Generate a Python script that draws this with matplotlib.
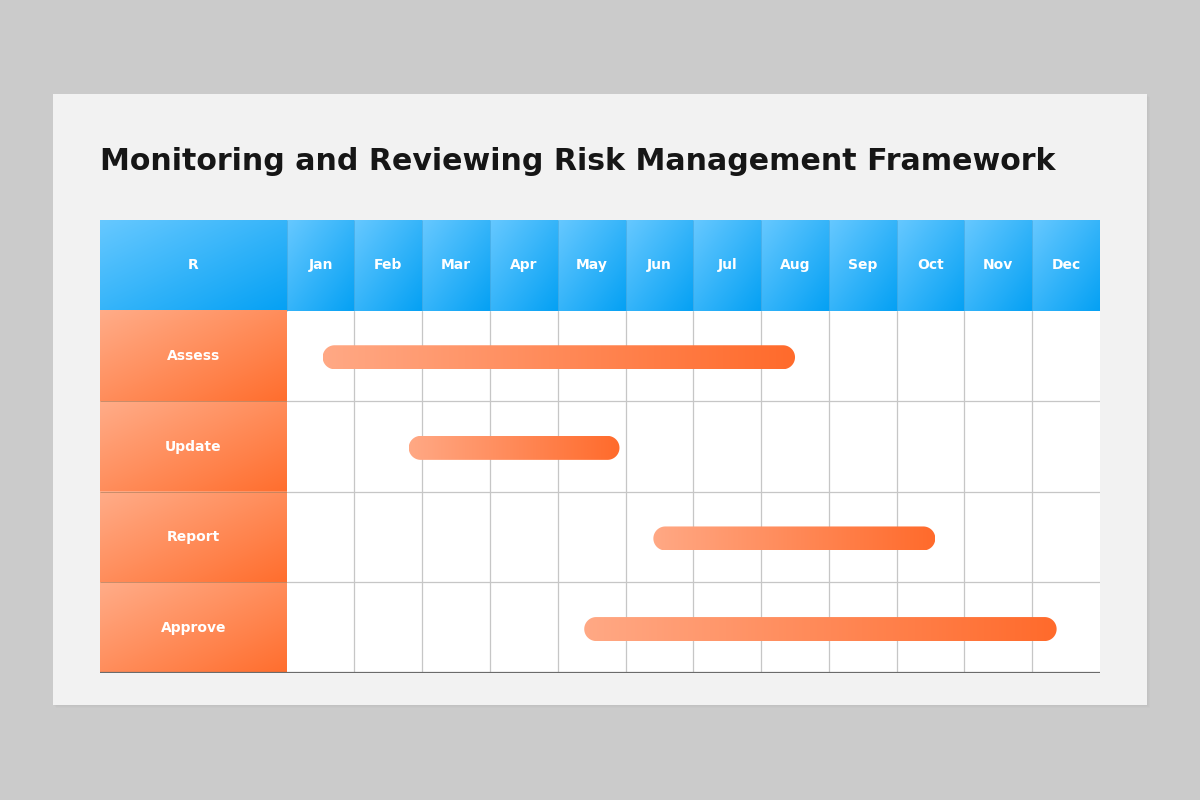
import numpy as np
import matplotlib.pyplot as plt
from matplotlib.colors import LinearSegmentedColormap
from matplotlib.patches import Rectangle, Polygon

title = "Monitoring and Reviewing Risk Management Framework"
corner_label = "R"
months = ["Jan", "Feb", "Mar", "Apr", "May", "Jun",
          "Jul", "Aug", "Sep", "Oct", "Nov", "Dec"]
tasks = ["Assess", "Update", "Report", "Approve"]
# bar extents in month units (0 = start of Jan, 12 = end of Dec)
starts = [0.53, 1.80, 5.41, 4.39]
ends = [7.50, 4.91, 9.57, 11.36]

blue = LinearSegmentedColormap.from_list("blue", ["#66c8ff", "#05a1f4"])
orange = LinearSegmentedColormap.from_list("orange", ["#ffac88", "#ff6e2e"])
bar_cmap = LinearSegmentedColormap.from_list("bar", ["#ffa884", "#ff6b2c"])

W, H = 1200, 800
fig = plt.figure(figsize=(12, 8), dpi=100)
fig.patch.set_facecolor("#cbcbcb")

# slide panel with soft shadow
for i, a in enumerate([0.05, 0.05, 0.06]):
    d = 3 - i
    fig.patches.append(Rectangle(((53 + d) / W, 1 - (705 + d) / H), 1094 / W, 611 / H,
                                 transform=fig.transFigure, facecolor="#9a9a9a",
                                 alpha=a, edgecolor="none", zorder=-3))
fig.patches.append(Rectangle((53 / W, 1 - 705 / H), 1094 / W, 611 / H,
                             transform=fig.transFigure, facecolor="#f2f2f2",
                             edgecolor="none", zorder=-2))

fig.text(100 / W, 1 - 162 / H, title, fontsize=21.6, fontweight="bold",
         color="#161616", va="center", ha="left", family="DejaVu Sans")

# table axes: x in months, y in rows (header = -1)
col_px = (1100 - 286.7) / 12
first_w = (286.7 - 100) / col_px
ax = fig.add_axes([100 / W, 1 - 673 / H, 1000 / W, 453 / H])
ax.set_facecolor("white")
for s in ax.spines.values():
    s.set_visible(False)
ax.set_xticks([])
ax.set_yticks([])

u = np.linspace(0, 1, 64)
diag = (u[None, :] + u[:, None]) / 2
horiz = np.tile(u, (8, 1))


def fill(x0, x1, y0, y1, cmap, data, z, clip=None):
    im = ax.imshow(data, cmap=cmap, extent=(x0, x1, y1, y0), origin="upper",
                   aspect="auto", interpolation="bilinear", zorder=z)
    if clip is not None:
        im.set_clip_path(clip)
    return im


# header
fill(-first_w, 0, -1, 0, blue, diag, 1)
ax.text(-first_w / 2, -0.5, corner_label, color="white", fontsize=10,
        fontweight="bold", ha="center", va="center", zorder=5)
for i, m in enumerate(months):
    fill(i, i + 1, -1, 0, blue, diag, 1)
    ax.text(i + 0.5, -0.5, m, color="white", fontsize=10,
            fontweight="bold", ha="center", va="center", zorder=5)
ax.vlines(range(0, 12), -1, 0, color="#3a9fd8", lw=0.6, alpha=0.6, zorder=2)

# task labels column
for r, t in enumerate(tasks):
    fill(-first_w, 0, r, r + 1, orange, diag, 1)
    ax.text(-first_w / 2, r + 0.5, t, color="white", fontsize=10,
            fontweight="bold", ha="center", va="center", zorder=5)
ax.hlines(range(1, 4), -first_w, 0, color="#b0805f", lw=0.7, alpha=0.7, zorder=2)

# grid
ax.vlines(range(1, 12), 0, 4, color="#c6c6c6", lw=0.9, zorder=1.5)
ax.hlines(range(1, 4), 0, 12, color="#c6c6c6", lw=0.9, zorder=1.5)
ax.hlines(4, -first_w, 12, color="#6b6b6b", lw=1.6, zorder=3)

# bars (pill shapes with semicircular ends)
row_px = 453 / 5
bar_h = 24 / row_px
ry = bar_h / 2
rx = 12 / col_px
t_right = np.linspace(-np.pi / 2, np.pi / 2, 40)
t_left = np.linspace(np.pi / 2, 3 * np.pi / 2, 40)
for r, (s0, s1) in enumerate(zip(starts, ends)):
    yc = r + 0.515
    xs = np.concatenate([s1 - rx + rx * np.cos(t_right), s0 + rx + rx * np.cos(t_left)])
    ys = np.concatenate([yc + ry * np.sin(t_right), yc + ry * np.sin(t_left)])
    patch = Polygon(np.column_stack([xs, ys]), closed=True, facecolor="none",
                    edgecolor="none", zorder=3)
    ax.add_patch(patch)
    fill(s0, s1, yc - ry, yc + ry, bar_cmap, horiz, 4, clip=patch)

ax.set_xlim(-first_w, 12)
ax.set_ylim(4, -1)

fig.savefig("out.png", dpi=100, facecolor=fig.get_facecolor())
